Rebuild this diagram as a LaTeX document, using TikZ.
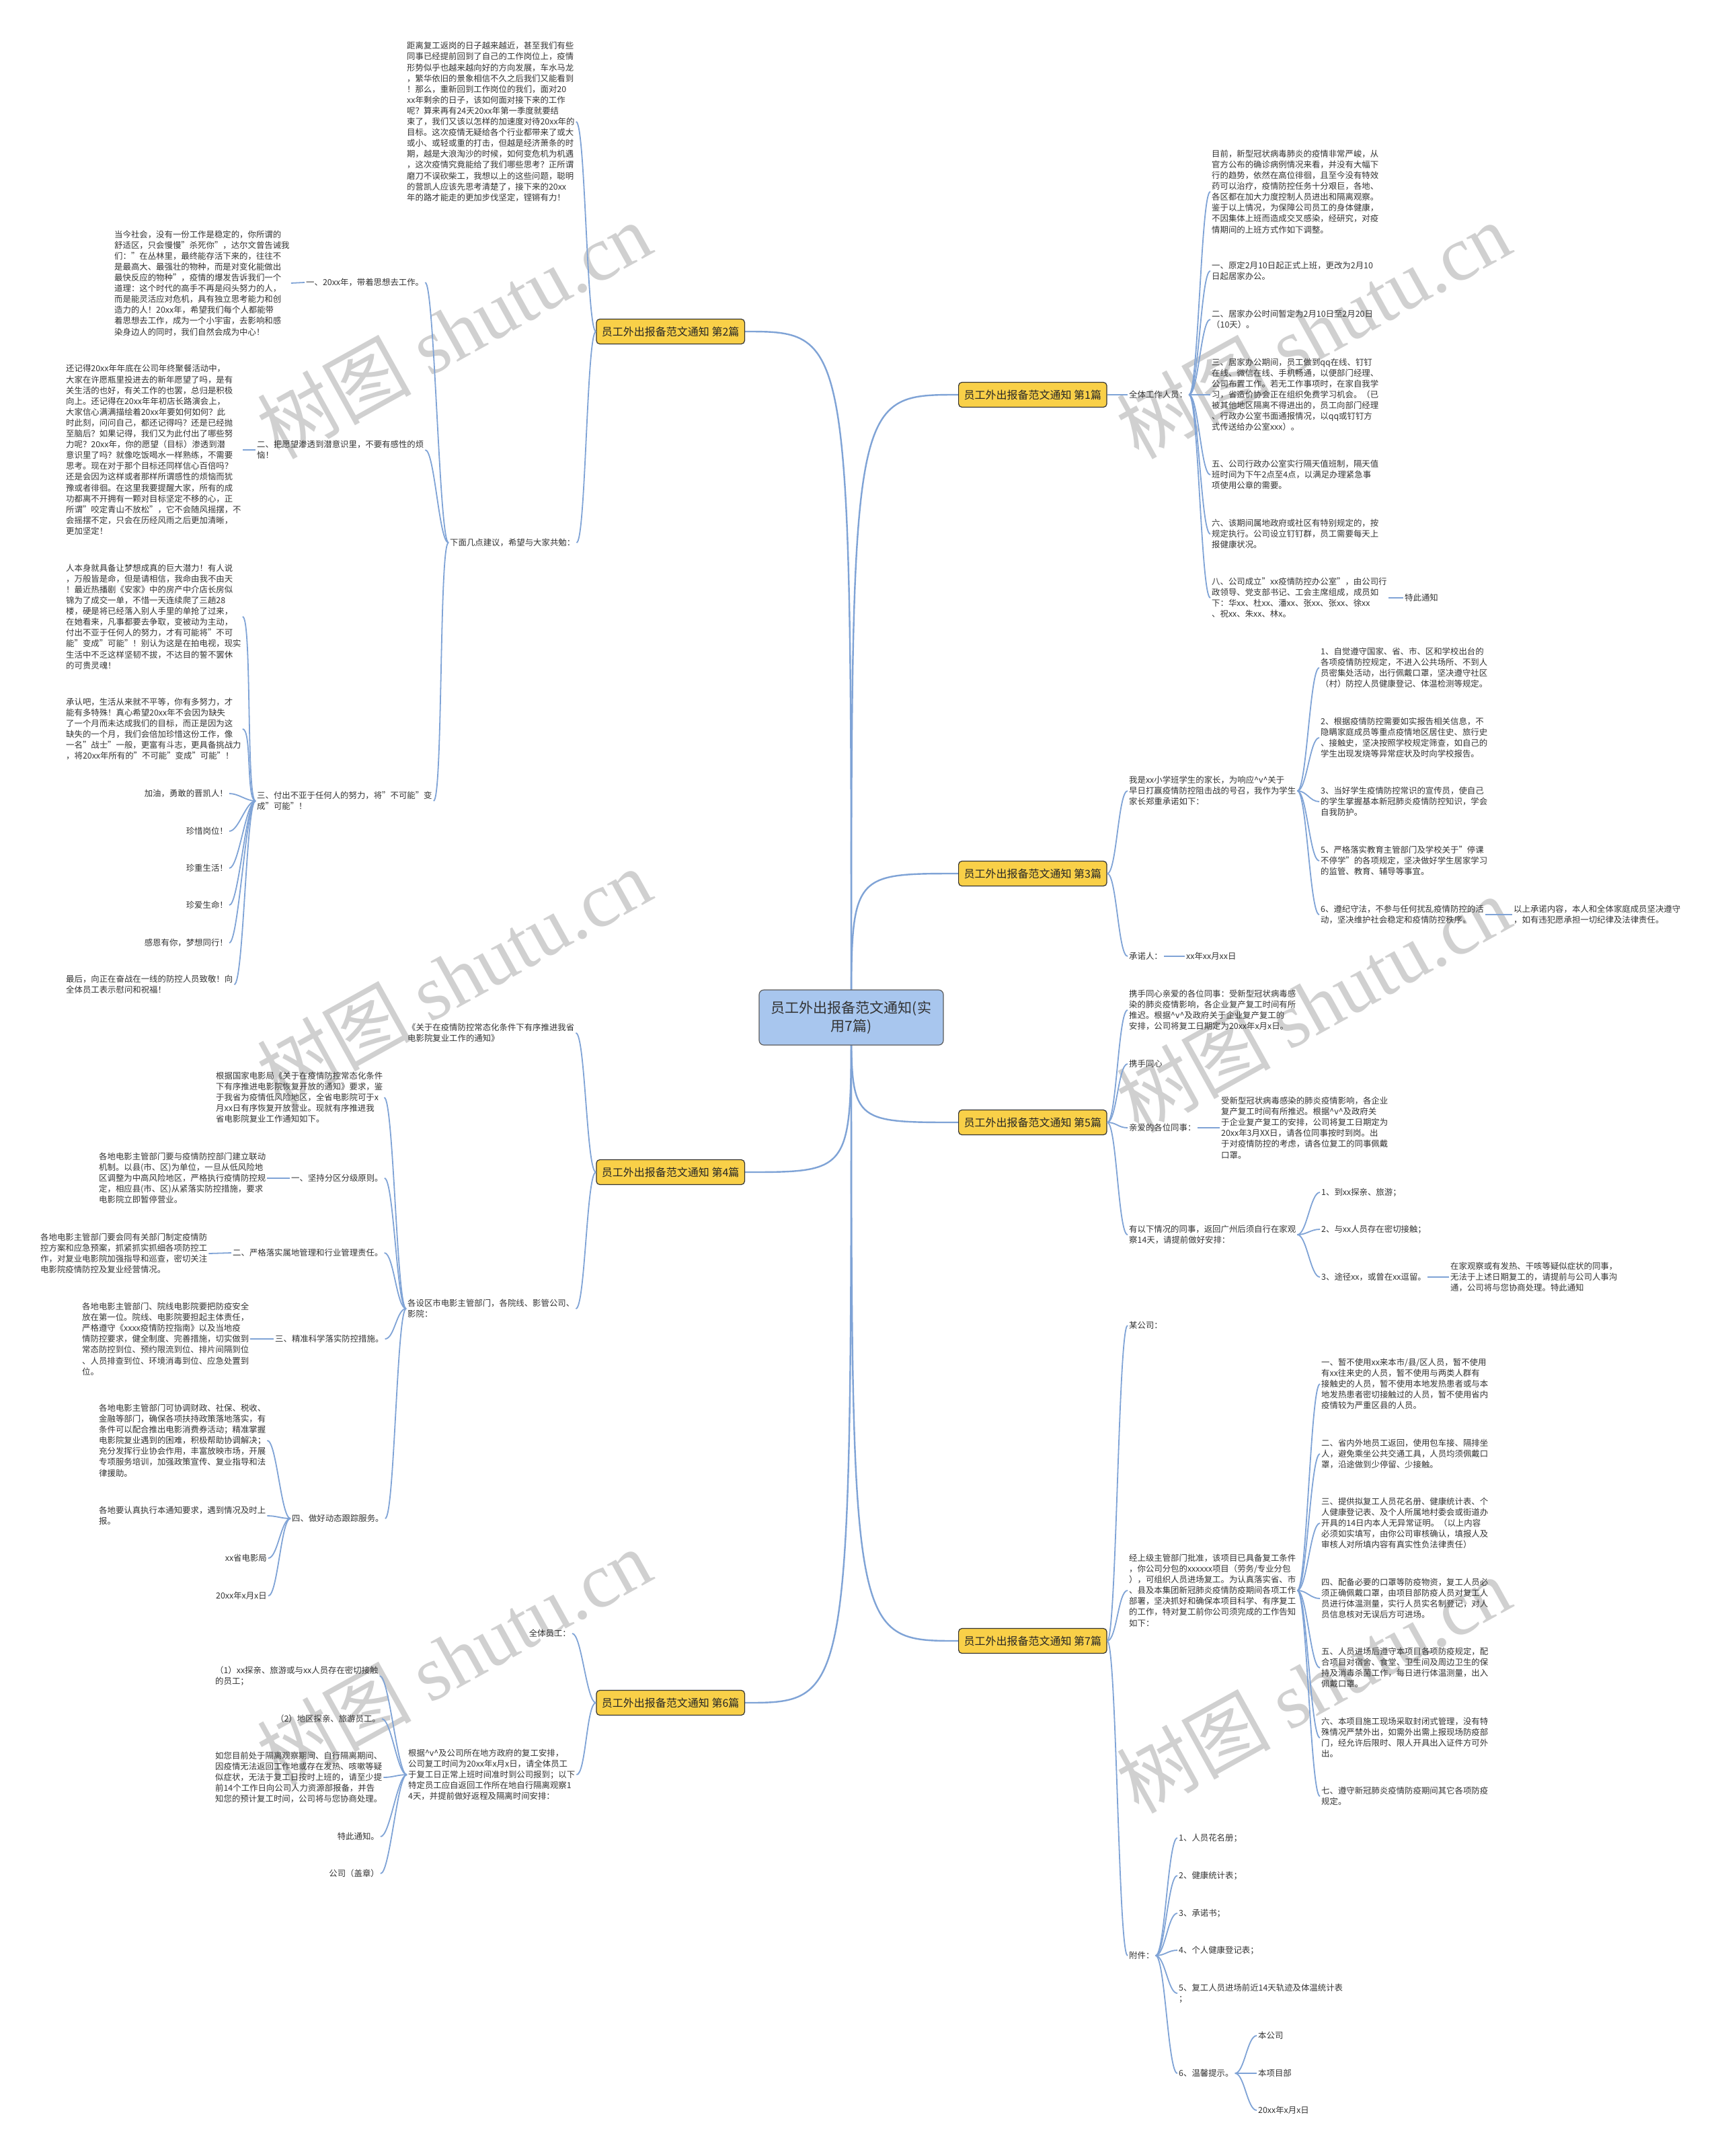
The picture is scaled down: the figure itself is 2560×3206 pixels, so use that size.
\documentclass[tikz,border=0pt]{standalone}
\usepackage{fontspec}
\setmainfont{Noto Sans CJK SC}
\newfontfamily\wmlatin{Liberation Serif}
\usetikzlibrary{backgrounds}
\definecolor{lnk}{HTML}{7FA3D6}
\definecolor{txt}{HTML}{333333}
\definecolor{ybox}{HTML}{F9D048}
\definecolor{cfill}{HTML}{A8C6EE}
\definecolor{wmc}{HTML}{D0D0D0}
\newcommand{\hatv}{\textasciicircum{}v\textasciicircum{}}
\tikzset{
  tx/.style={font=\fontsize{12.4}{16.1}\selectfont, text=txt, inner sep=2pt, align=left},
  txr/.style={tx, align=right},
  brbox/.style={draw=txt, line width=1.2pt, fill=ybox, rounded corners=5pt, font=\fontsize{16}{19}\selectfont, text=black!85, inner xsep=8pt, inner ysep=0pt, minimum height=37pt},
  cbox/.style={draw=txt!80, line width=1.2pt, fill=cfill, rounded corners=7pt, font=\fontsize{21}{27}\selectfont, text=txt, inner xsep=14pt, inner ysep=12pt, align=center, minimum width=274pt, minimum height=82pt},
  ml/.style={draw=lnk, line width=2.4pt},
  ln/.style={draw=lnk, line width=1.8pt},
  fr/.style={to path={.. controls ([xshift=14pt]\tikztostart) and ([xshift=-14pt]\tikztotarget) .. (\tikztotarget)}},
  fl/.style={to path={.. controls ([xshift=-14pt]\tikztostart) and ([xshift=14pt]\tikztotarget) .. (\tikztotarget)}},
  wmk/.style={text=wmc, rotate=29, font=\fontsize{115}{115}\selectfont, inner sep=0pt},
}
\begin{document}
\begin{tikzpicture}[x=1pt,y=-1pt]
\useasboundingbox (0,0) rectangle (2560,3206);

% ---------- centre ----------
\node[cbox] (cn) at (1266,1513) {员工外出报备范文通知(实\\用7篇)};

% ---------- branch 1 ----------
\node[brbox, anchor=west] (b1) at (1425,587) {员工外出报备范文通知 第1篇};
\node[tx, anchor=west] (q1) at (1677,587) {全体工作人员：};
\node[tx, anchor=west] (q1a) at (1800,285) {目前，新型冠状病毒肺炎的疫情非常严峻，从\\官方公布的确诊病例情况来看，并没有大幅下\\行的趋势，依然在高位徘徊，且至今没有特效\\药可以治疗，疫情防控任务十分艰巨，各地、\\各区都在加大力度控制人员进出和隔离观察。\\鉴于以上情况，为保障公司员工的身体健康，\\不因集体上班而造成交叉感染，经研究，对疫\\情期间的上班方式作如下调整。};
\node[tx, anchor=west] (q1b) at (1800,403) {一、原定2月10日起正式上班，更改为2月10\\日起居家办公。};
\node[tx, anchor=west] (q1c) at (1800,475) {二、居家办公时间暂定为2月10日至2月20日\\（10天）。};
\node[tx, anchor=west] (q1d) at (1800,587) {三、居家办公期间，员工做到qq在线、钉钉\\在线、微信在线、手机畅通，以便部门经理、\\公司布置工作。若无工作事项时，在家自我学\\习，省造价协会正在组织免费学习机会。（已\\被其他地区隔离不得进出的，员工向部门经理\\、行政办公室书面通报情况，以qq或钉钉方\\式传送给办公室xxx）。};
\node[tx, anchor=west] (q1e) at (1800,706) {五、公司行政办公室实行隔天值班制，隔天值\\班时间为下午2点至4点，以满足办理紧急事\\项使用公章的需要。};
\node[tx, anchor=west] (q1f) at (1800,794) {六、该期间属地政府或社区有特别规定的，按\\规定执行。公司设立钉钉群，员工需要每天上\\报健康状况。};
\node[tx, anchor=west] (q1g) at (1800,889) {八、公司成立"xx疫情防控办公室"，由公司行\\政领导、党支部书记、工会主席组成，成员如\\下：华xx、杜xx、潘xx、张xx、张xx、徐xx\\、祝xx、朱xx、林x。};
\node[tx, anchor=west] (q1h) at (2087,889) {特此通知};

% ---------- branch 3 ----------
\node[brbox, anchor=west] (b3) at (1425,1299) {员工外出报备范文通知 第3篇};
\node[tx, anchor=west] (r1) at (1677,1176) {我是xx小学班学生的家长，为响应\hatv{}关于\\早日打赢疫情防控阻击战的号召，我作为学生\\家长郑重承诺如下：};
\node[tx, anchor=west] (r2) at (1677,1422) {承诺人：};
\node[tx, anchor=west] (r2a) at (1762,1422) {xx年xx月xx日};
\node[tx, anchor=west] (r1a) at (1962,993) {1、自觉遵守国家、省、市、区和学校出台的\\各项疫情防控规定，不进入公共场所、不到人\\员密集处活动，出行佩戴口罩，坚决遵守社区\\（村）防控人员健康登记、体温检测等规定。};
\node[tx, anchor=west] (r1b) at (1962,1097) {2、根据疫情防控需要如实报告相关信息，不\\隐瞒家庭成员等重点疫情地区居住史、旅行史\\、接触史，坚决按照学校规定筛查，如自己的\\学生出现发烧等异常症状及时向学校报告。};
\node[tx, anchor=west] (r1c) at (1962,1192) {3、当好学生疫情防控常识的宣传员，使自己\\的学生掌握基本新冠肺炎疫情防控知识，学会\\自我防护。};
\node[tx, anchor=west] (r1d) at (1962,1280) {5、严格落实教育主管部门及学校关于"停课\\不停学"的各项规定，坚决做好学生居家学习\\的监管、教育、辅导等事宜。};
\node[tx, anchor=west] (r1e) at (1962,1360) {6、遵纪守法，不参与任何扰乱疫情防控的活\\动，坚决维护社会稳定和疫情防控秩序。};
\node[tx, anchor=west] (r1f) at (2249,1360) {以上承诺内容，本人和全体家庭成员坚决遵守\\，如有违犯愿承担一切纪律及法律责任。};

% ---------- branch 5 ----------
\node[brbox, anchor=west] (b5) at (1425,1669) {员工外出报备范文通知 第5篇};
\node[tx, anchor=west] (s1) at (1677,1502) {携手同心亲爱的各位同事：受新型冠状病毒感\\染的肺炎疫情影响，各企业复产复工时间有所\\推迟。根据\hatv{}及政府关于企业复产复工的\\安排，公司将复工日期定为20xx年x月x日。};
\node[tx, anchor=west] (s2) at (1677,1582) {携手同心};
\node[tx, anchor=west] (s3) at (1677,1677) {亲爱的各位同事：};
\node[tx, anchor=west] (s3a) at (1814,1677) {受新型冠状病毒感染的肺炎疫情影响，各企业\\复产复工时间有所推迟。根据\hatv{}及政府关\\于企业复产复工的安排，公司将复工日期定为\\20xx年3月XX日，请各位同事按时到岗。出\\于对疫情防控的考虑，请各位复工的同事佩戴\\口罩。};
\node[tx, anchor=west] (s4) at (1677,1836) {有以下情况的同事，返回广州后须自行在家观\\察14天，请提前做好安排：};
\node[tx, anchor=west] (s4a) at (1963,1773) {1、到xx探亲、旅游；};
\node[tx, anchor=west] (s4b) at (1963,1828) {2、与xx人员存在密切接触；};
\node[tx, anchor=west] (s4c) at (1963,1899) {3、途径xx，或曾在xx逗留。};
\node[tx, anchor=west] (s4d) at (2155,1899) {在家观察或有发热、干咳等疑似症状的同事，\\无法于上述日期复工的，请提前与公司人事沟\\通，公司将与您协商处理。特此通知};

% ---------- branch 7 ----------
\node[brbox, anchor=west] (b7) at (1425,2440) {员工外出报备范文通知 第7篇};
\node[tx, anchor=west] (u1) at (1677,1971) {某公司：};
\node[tx, anchor=west] (u2) at (1677,2365) {经上级主管部门批准，该项目已具备复工条件\\，你公司分包的xxxxxx项目（劳务/专业分包\\），可组织人员进场复工。为认真落实省、市\\、县及本集团新冠肺炎疫情防疫期间各项工作\\部署，坚决抓好和确保本项目科学、有序复工\\的工作，特对复工前你公司须完成的工作告知\\如下：};
\node[tx, anchor=west] (u3) at (1677,2908) {附件：};
\node[tx, anchor=west] (u2a) at (1963,2058) {一、暂不使用xx来本市/县/区人员，暂不使用\\有xx往来史的人员，暂不使用与两类人群有\\接触史的人员，暂不使用本地发热患者或与本\\地发热患者密切接触过的人员，暂不使用省内\\疫情较为严重区县的人员。};
\node[tx, anchor=west] (u2b) at (1963,2162) {二、省内外地员工返回，使用包车接、隔排坐\\人，避免乘坐公共交通工具，人员均须佩戴口\\罩，沿途做到少停留、少接触。};
\node[tx, anchor=west] (u2c) at (1963,2265) {三、提供拟复工人员花名册、健康统计表、个\\人健康登记表、及个人所属地村委会或街道办\\开具的14日内本人无异常证明。（以上内容\\必须如实填写，由你公司审核确认，填报人及\\审核人对所填内容有真实性负法律责任）};
\node[tx, anchor=west] (u2d) at (1963,2377) {四、配备必要的口罩等防疫物资，复工人员必\\须正确佩戴口罩，由项目部防疫人员对复工人\\员进行体温测量，实行人员实名制登记，对人\\员信息核对无误后方可进场。};
\node[tx, anchor=west] (u2e) at (1963,2480) {五、人员进场后遵守本项目各项防疫规定，配\\合项目对宿舍、食堂、卫生间及周边卫生的保\\持及消毒杀菌工作，每日进行体温测量，出入\\佩戴口罩。};
\node[tx, anchor=west] (u2f) at (1963,2584) {六、本项目施工现场采取封闭式管理，没有特\\殊情况严禁外出，如需外出需上报现场防疫部\\门，经允许后限时、限人开具出入证件方可外\\出。};
\node[tx, anchor=west] (u2g) at (1963,2671) {七、遵守新冠肺炎疫情防疫期间其它各项防疫\\规定。};
\node[tx, anchor=west] (u3a) at (1751,2733) {1、人员花名册；};
\node[tx, anchor=west] (u3b) at (1751,2789) {2、健康统计表；};
\node[tx, anchor=west] (u3c) at (1751,2845) {3、承诺书；};
\node[tx, anchor=west] (u3d) at (1751,2900) {4、个人健康登记表；};
\node[tx, anchor=west] (u3e) at (1751,2964) {5、复工人员进场前近14天轨迹及体温统计表\\；};
\node[tx, anchor=west] (u3f) at (1751,3083) {6、温馨提示。};
\node[tx, anchor=west] (u3f1) at (1869,3027) {本公司};
\node[tx, anchor=west] (u3f2) at (1869,3083) {本项目部};
\node[tx, anchor=west] (u3f3) at (1869,3138) {20xx年x月x日};

% ---------- branch 2 ----------
\node[brbox, anchor=east] (b2) at (1108,493) {员工外出报备范文通知 第2篇};
\node[tx, anchor=west] (v0) at (603,181) {距离复工返岗的日子越来越近，甚至我们有些\\同事已经提前回到了自己的工作岗位上，疫情\\形势似乎也越来越向好的方向发展，车水马龙\\，繁华依旧的景象相信不久之后我们又能看到\\！那么，重新回到工作岗位的我们，面对20\\xx年剩余的日子，该如何面对接下来的工作\\呢？算来再有24天20xx年第一季度就要结\\束了，我们又该以怎样的加速度对待20xx年的\\目标。这次疫情无疑给各个行业都带来了或大\\或小、或轻或重的打击，但越是经济萧条的时\\期，越是大浪淘沙的时候，如何变危机为机遇\\，这次疫情究竟能给了我们哪些思考？正所谓\\磨刀不误砍柴工，我想以上的这些问题，聪明\\的营凯人应该先思考清楚了，接下来的20xx\\年的路才能走的更加步伐坚定，铿锵有力！};
\node[tx, anchor=west] (v1) at (667,807) {下面几点建议，希望与大家共勉：};
\node[tx, anchor=west] (v1a) at (453,420) {一、20xx年，带着思想去工作。};
\node[tx, anchor=west] (v1a1) at (168,421) {当今社会，没有一份工作是稳定的，你所谓的\\舒适区，只会慢慢"杀死你"，达尔文曾告诫我\\们："在丛林里，最终能存活下来的，往往不\\是最高大、最强壮的物种，而是对变化能做出\\最快反应的物种"，疫情的爆发告诉我们一个\\道理：这个时代的高手不再是闷头努力的人，\\而是能灵活应对危机，具有独立思考能力和创\\造力的人！20xx年，希望我们每个人都能带\\着思想去工作，成为一个小宇宙，去影响和感\\染身边人的同时，我们自然会成为中心！};
\node[tx, anchor=west] (v1b) at (380,669) {二、把愿望渗透到潜意识里，不要有感性的烦\\恼！};
\node[tx, anchor=west] (v1b1) at (96,669) {还记得20xx年年底在公司年终聚餐活动中，\\大家在许愿瓶里投进去的新年愿望了吗，是有\\关生活的也好，有关工作的也罢，总归是积极\\向上。还记得在20xx年年初店长路演会上，\\大家信心满满描绘着20xx年要如何如何？此\\时此刻，问问自己，都还记得吗？还是已经抛\\至脑后？如果记得，我们又为此付出了哪些努\\力呢？20xx年，你的愿望（目标）渗透到潜\\意识里了吗？就像吃饭喝水一样熟练，不需要\\思考。现在对于那个目标还同样信心百倍吗？\\还是会因为这样或者那样所谓感性的烦恼而犹\\豫或者徘徊。在这里我要提醒大家，所有的成\\功都离不开拥有一颗对目标坚定不移的心，正\\所谓"咬定青山不放松"，它不会随风摇摆，不\\会摇摆不定，只会在历经风雨之后更加清晰，\\更加坚定！};
\node[tx, anchor=west] (v1c) at (380,1191) {三、付出不亚于任何人的努力，将"不可能"变\\成"可能"！};
\node[tx, anchor=west] (v1c1) at (96,917) {人本身就具备让梦想成真的巨大潜力！有人说\\，万般皆是命，但是请相信，我命由我不由天\\！最近热播剧《安家》中的房产中介店长房似\\锦为了成交一单，不惜一天连续爬了三趟28\\楼，硬是将已经落入别人手里的单抢了过来，\\在她看来，凡事都要去争取，变被动为主动，\\付出不亚于任何人的努力，才有可能将"不可\\能"变成"可能"！别认为这是在拍电视，现实\\生活中不乏这样坚韧不拔，不达目的誓不罢休\\的可贵灵魂！};
\node[tx, anchor=west] (v1c2) at (96,1084) {承认吧，生活从来就不平等，你有多努力，才\\能有多特殊！真心希望20xx年不会因为缺失\\了一个月而未达成我们的目标，而正是因为这\\缺失的一个月，我们会倍加珍惜这份工作，像\\一名"战士"一般，更富有斗志，更具备挑战力\\，将20xx年所有的"不可能"变成"可能"！};
\node[txr, anchor=east] (v1c3) at (341,1180) {加油，勇敢的晋凯人！};
\node[txr, anchor=east] (v1c4) at (341,1236) {珍惜岗位！};
\node[txr, anchor=east] (v1c5) at (341,1291) {珍重生活！};
\node[txr, anchor=east] (v1c6) at (341,1346) {珍爱生命！};
\node[txr, anchor=east] (v1c7) at (341,1402) {感恩有你，梦想同行！};
\node[tx, anchor=west] (v1c8) at (96,1464) {最后，向正在奋战在一线的防控人员致敬！向\\全体员工表示慰问和祝福！};

% ---------- branch 4 ----------
\node[brbox, anchor=east] (b4) at (1108,1743) {员工外出报备范文通知 第4篇};
\node[tx, anchor=west] (w0) at (604,1536) {《关于在疫情防控常态化条件下有序推进我省\\电影院复业工作的通知》};
\node[tx, anchor=west] (w1) at (604,1946) {各设区市电影主管部门，各院线、影管公司、\\影院：};
\node[tx, anchor=west] (w1a) at (319,1632) {根据国家电影局《关于在疫情防控常态化条件\\下有序推进电影院恢复开放的通知》要求，鉴\\于我省为疫情低风险地区，全省电影院可于x\\月xx日有序恢复开放营业。现就有序推进我\\省电影院复业工作通知如下。};
\node[tx, anchor=west] (w1b) at (431,1752) {一、坚持分区分级原则。};
\node[tx, anchor=west] (w1b1) at (145,1752) {各地电影主管部门要与疫情防控部门建立联动\\机制。以县(市、区)为单位，一旦从低风险地\\区调整为中高风险地区，严格执行疫情防控规\\定，相应县(市、区)从紧落实防控措施，要求\\电影院立即暂停营业。};
\node[tx, anchor=west] (w1c) at (344,1863) {二、严格落实属地管理和行业管理责任。};
\node[tx, anchor=west] (w1c1) at (58,1864) {各地电影主管部门要会同有关部门制定疫情防\\控方案和应急预案，抓紧抓实抓细各项防控工\\作，对复业电影院加强指导和巡查，密切关注\\电影院疫情防控及复业经营情况。};
\node[tx, anchor=west] (w1d) at (407,1991) {三、精准科学落实防控措施。};
\node[tx, anchor=west] (w1d1) at (120,1991) {各地电影主管部门、院线电影院要把防疫安全\\放在第一位。院线、电影院要担起主体责任，\\严格遵守《xxxx疫情防控指南》以及当地疫\\情防控要求，健全制度、完善措施，切实做到\\常态防控到位、预约限流到位、排片间隔到位\\、人员排查到位、环境消毒到位、应急处置到\\位。};
\node[tx, anchor=west] (w1e) at (432,2258) {四、做好动态跟踪服务。};
\node[tx, anchor=west] (w1e1) at (145,2142) {各地电影主管部门可协调财政、社保、税收、\\金融等部门，确保各项扶持政策落地落实，有\\条件可以配合推出电影消费券活动；精准掌握\\电影院复业遇到的困难，积极帮助协调解决；\\充分发挥行业协会作用，丰富放映市场，开展\\专项服务培训，加强政策宣传、复业指导和法\\律援助。};
\node[tx, anchor=west] (w1e2) at (145,2254) {各地要认真执行本通知要求，遇到情况及时上\\报。};
\node[txr, anchor=east] (w1e3) at (399,2317) {xx省电影局};
\node[txr, anchor=east] (w1e4) at (399,2373) {20xx年x月x日};

% ---------- branch 6 ----------
\node[brbox, anchor=east] (b6) at (1108,2532) {员工外出报备范文通知 第6篇};
\node[txr, anchor=east] (x0) at (851,2429) {全体员工：};
\node[tx, anchor=west] (x1) at (605,2639) {根据\hatv{}及公司所在地方政府的复工安排，\\公司复工时间为20xx年x月x日，请全体员工\\于复工日正常上班时间准时到公司报到；以下\\特定员工应自返回工作所在地自行隔离观察1\\4天，并提前做好返程及隔离时间安排：};
\node[tx, anchor=west] (x1a) at (318,2492) {（1）xx探亲、旅游或与xx人员存在密切接触\\的员工；};
\node[txr, anchor=east] (x1b) at (568,2556) {（2）地区探亲、旅游员工。};
\node[tx, anchor=west] (x1c) at (318,2643) {如您目前处于隔离观察期间、自行隔离期间、\\因疫情无法返回工作地或存在发热、咳嗽等疑\\似症状，无法于复工日按时上班的，请至少提\\前14个工作日向公司人力资源部报备，并告\\知您的预计复工时间，公司将与您协商处理。};
\node[txr, anchor=east] (x1d) at (566,2731) {特此通知。};
\node[txr, anchor=east] (x1e) at (566,2786) {公司（盖章）};

% ---------- background: page, watermarks, main links ----------
\begin{scope}[on background layer]
\fill[white] (0,0) rectangle (2560,3206);
\node[wmk] (wm1) at (675,491) {树图 {\wmlatin shutu.cn}};
\node[wmk] (wm2) at (1953,491) {树图 {\wmlatin shutu.cn}};
\node[wmk] (wm3) at (675,1452) {树图 {\wmlatin shutu.cn}};
\node[wmk] (wm4) at (1953,1493) {树图 {\wmlatin shutu.cn}};
\node[wmk] (wm5) at (675,2464) {树图 {\wmlatin shutu.cn}};
\node[wmk] (wm6) at (1953,2505) {树图 {\wmlatin shutu.cn}};
\draw[ml] (cn.center) .. controls (cn.center |- b1.west) .. (b1.west);
\draw[ml] (cn.center) .. controls (cn.center |- b3.west) .. (b3.west);
\draw[ml] (cn.center) .. controls (cn.center |- b5.west) .. (b5.west);
\draw[ml] (cn.center) .. controls (cn.center |- b7.west) .. (b7.west);
\draw[ml] (cn.center) .. controls (cn.center |- b2.east) .. (b2.east);
\draw[ml] (cn.center) .. controls (cn.center |- b4.east) .. (b4.east);
\draw[ml] (cn.center) .. controls (cn.center |- b6.east) .. (b6.east);
\end{scope}

% branch 1
\draw[ln] (b1.east) -- (q1.west);
\draw[ln] (q1.east) edge[fr] (q1a.west) edge[fr] (q1b.west) edge[fr] (q1c.west) edge[fr] (q1d.west) edge[fr] (q1e.west) edge[fr] (q1f.west) edge[fr] (q1g.west);
\draw[ln] (q1g.east) -- (q1h.west);
% branch 3
\draw[ln] (b3.east) edge[fr] (r1.west) edge[fr] (r2.west);
\draw[ln] (r1.east) edge[fr] (r1a.west) edge[fr] (r1b.west) edge[fr] (r1c.west) edge[fr] (r1d.west) edge[fr] (r1e.west);
\draw[ln] (r1e.east) -- (r1f.west);
\draw[ln] (r2.east) -- (r2a.west);
% branch 5
\draw[ln] (b5.east) edge[fr] (s1.west) edge[fr] (s2.west) edge[fr] (s3.west) edge[fr] (s4.west);
\draw[ln] (s3.east) -- (s3a.west);
\draw[ln] (s4.east) edge[fr] (s4a.west) edge[fr] (s4b.west) edge[fr] (s4c.west);
\draw[ln] (s4c.east) -- (s4d.west);
% branch 7
\draw[ln] (b7.east) edge[fr] (u1.west) edge[fr] (u2.west) edge[fr] (u3.west);
\draw[ln] (u2.east) edge[fr] (u2a.west) edge[fr] (u2b.west) edge[fr] (u2c.west) edge[fr] (u2d.west) edge[fr] (u2e.west) edge[fr] (u2f.west) edge[fr] (u2g.west);
\draw[ln] (u3.east) edge[fr] (u3a.west) edge[fr] (u3b.west) edge[fr] (u3c.west) edge[fr] (u3d.west) edge[fr] (u3e.west) edge[fr] (u3f.west);
\draw[ln] (u3f.east) edge[fr] (u3f1.west) edge[fr] (u3f2.west) edge[fr] (u3f3.west);
% branch 2
\draw[ln] (b2.west) edge[fl] (v0.east) edge[fl] (v1.east);
\draw[ln] (v1.west) edge[fl] (v1a.east) edge[fl] (v1b.east) edge[fl] (v1c.east);
\draw[ln] (v1a.west) -- (v1a1.east);
\draw[ln] (v1b.west) -- (v1b1.east);
\draw[ln] (v1c.west) edge[fl] (v1c1.east) edge[fl] (v1c2.east) edge[fl] (v1c3.east) edge[fl] (v1c4.east) edge[fl] (v1c5.east) edge[fl] (v1c6.east) edge[fl] (v1c7.east) edge[fl] (v1c8.east);
% branch 4
\draw[ln] (b4.west) edge[fl] (w0.east) edge[fl] (w1.east);
\draw[ln] (w1.west) edge[fl] (w1a.east) edge[fl] (w1b.east) edge[fl] (w1c.east) edge[fl] (w1d.east) edge[fl] (w1e.east);
\draw[ln] (w1b.west) -- (w1b1.east);
\draw[ln] (w1c.west) -- (w1c1.east);
\draw[ln] (w1d.west) -- (w1d1.east);
\draw[ln] (w1e.west) edge[fl] (w1e1.east) edge[fl] (w1e2.east) edge[fl] (w1e3.east) edge[fl] (w1e4.east);
% branch 6
\draw[ln] (b6.west) edge[fl] (x0.east) edge[fl] (x1.east);
\draw[ln] (x1.west) edge[fl] (x1a.east) edge[fl] (x1b.east) edge[fl] (x1c.east) edge[fl] (x1d.east) edge[fl] (x1e.east);
\end{tikzpicture}
\end{document}
